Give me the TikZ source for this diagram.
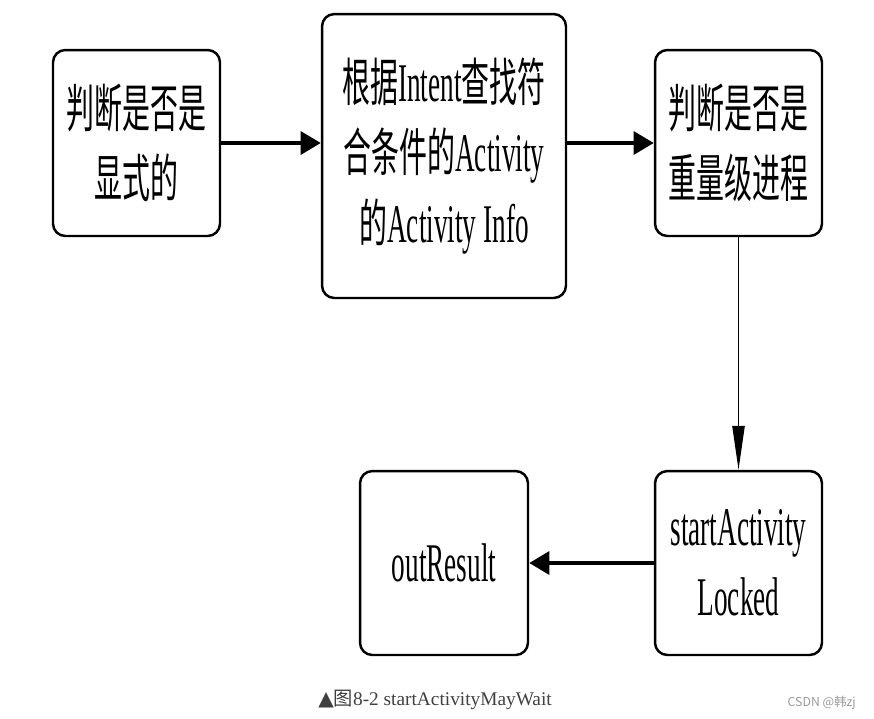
\documentclass[tikz,border=0pt]{standalone}
\usepackage{fontspec}
\setmainfont{Liberation Serif}[FakeStretch=0.5]
\newfontfamily\cjk{Noto Sans CJK SC}[FakeStretch=0.54,Scale=0.95]
\newfontfamily\capfont{Liberation Serif}
\newfontfamily\capcjk{Noto Sans CJK SC}
\newfontfamily\symfont{DejaVu Sans}
\usepackage{xcolor}
\definecolor{captiongray}{HTML}{404040}
\definecolor{markgray}{HTML}{9A9A9A}
\usetikzlibrary{positioning,arrows.meta}

\begin{document}
\begin{tikzpicture}[x=0.02cm,y=-0.02cm,
    flowbox/.style={draw, line width=1.4pt, rounded corners=7pt, align=center,
                    inner sep=0pt, font=\fontsize{31}{40}\selectfont},
    mainarrow/.style={line width=2.3pt, -{Triangle[length=11.5pt,width=13pt]}},
    downarrow/.style={line width=0.75pt, -{Triangle[length=25pt,width=7pt]}}]
  \useasboundingbox (0,0) rectangle (874,718);

  % Top row
  \node[flowbox, minimum width=3.34cm, minimum height=3.72cm] (explicit) at (136.5,143)
    {{\cjk 判断是否是}\\{\cjk 显式的}};
  \node[flowbox, minimum width=4.88cm, minimum height=5.68cm] (queryinfo) at (444,156)
    {{\cjk 根据}Intent{\cjk 查找符}\\{\cjk 合条件的}Activity\\{\cjk 的}Activity Info};
  \node[flowbox, minimum width=3.34cm, minimum height=3.72cm] (heavyweight) at (738.5,143)
    {{\cjk 判断是否是}\\{\cjk 重量级进程}};

  % Bottom row
  \node[flowbox, minimum width=3.34cm, minimum height=3.68cm] (startlocked) at (738.5,563)
    {startActivity\\Locked};
  \node[flowbox, minimum width=3.36cm, minimum height=3.68cm] (outresult) at (444,563)
    {outResult};

  % Connectors
  \draw[mainarrow] (explicit.east) -- (explicit.east -| queryinfo.west);
  \draw[mainarrow] (queryinfo.east |- heavyweight.west) -- (heavyweight.west);
  \draw[downarrow] (heavyweight.south) -- (startlocked.north);
  \draw[mainarrow] (startlocked.west) -- (outresult.east);

  % Caption
  \node[font=\capfont\fontsize{11}{13}\selectfont, text=captiongray] (caption) at (435,700)
    {{\symfont\fontsize{11.5}{13}\selectfont ▲}{\capcjk 图}8-2 startActivityMayWait};
  \node[anchor=east, font=\capcjk\fontsize{7}{8}\selectfont, text=markgray] (watermark)
    at (862,703) {CSDN @韩zj};
\end{tikzpicture}
\end{document}
